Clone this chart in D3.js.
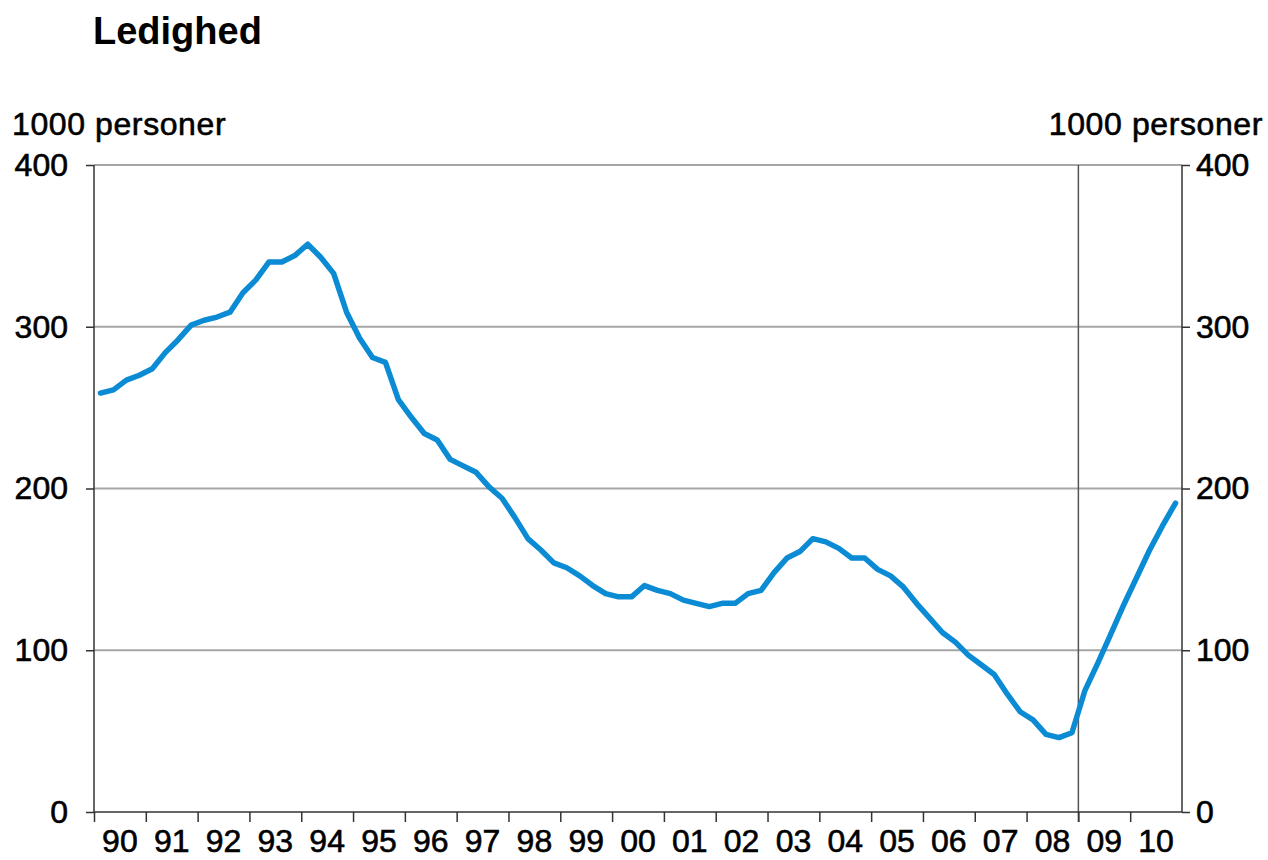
<!DOCTYPE html>
<html>
<head>
<meta charset="utf-8">
<script src="https://cdn.jsdelivr.net/npm/d3@7"></script>
<style>
  html, body { margin: 0; padding: 0; background: #ffffff; }
  svg { display: block; font-family: "Liberation Sans", Arial, sans-serif; }
  .lbl { fill: #000; stroke: #000; stroke-width: 0.6px; }
</style>
</head>
<body>
<svg id="chart" width="1268" height="860"></svg>
<script>
// ---- data ----
const title = "Ledighed";
const unitLabel = "1000 personer";
const yearLabels = ["90","91","92","93","94","95","96","97","98","99","00","01","02","03","04","05","06","07","08","09","10"];
const startYear = 1990;
const yTicks = [0, 100, 200, 300, 400];
// quarterly values, 1000 persons, 1990Q1 .. 2010Q4
const unemployment = [
  259, 261, 267, 270,
  274, 284, 292, 301,
  304, 306, 309, 321,
  329, 340, 340, 344,
  351, 343, 333, 309,
  293, 281, 278, 255,
  244, 234, 230, 218,
  214, 210, 201, 194,
  182, 169, 162, 154,
  151, 146, 140, 135,
  133, 133, 140, 137,
  135, 131, 129, 127,
  129, 129, 135, 137,
  148, 157, 161, 169,
  167, 163, 157, 157,
  150, 146, 139, 129,
  120, 111, 105, 97,
  91, 85, 73, 62,
  57, 48, 46, 49,
  75, 92, 110, 128,
  145, 162, 177, 191
];
const forecastStart = 2009;

(function () {
// ---- layout ----
const svg = d3.select("#chart");
const mLeft = 94, mRight = 1182, mTop = 165, mBottom = 812;

const x = d3.scaleLinear().domain([startYear, startYear + yearLabels.length]).range([mLeft, mRight]);
const y = d3.scaleLinear().domain([0, 400]).range([mBottom, mTop]);

const points = unemployment.map((v, i) => ({ t: startYear + (i + 0.5) / 4, v }));

// gridlines
svg.append("g").selectAll("line").data(yTicks.filter(d => d > 0)).join("line")
  .attr("x1", mLeft).attr("x2", mRight)
  .attr("y1", d => y(d)).attr("y2", d => y(d))
  .attr("stroke", "#a6a6a6").attr("stroke-width", 2);

// forecast divider
svg.append("line")
  .attr("x1", x(forecastStart)).attr("x2", x(forecastStart))
  .attr("y1", y(400)).attr("y2", y(0) + 10)
  .attr("stroke", "#555").attr("stroke-width", 1.5);

// left axis
const leftAxis = d3.axisLeft(y).tickValues(yTicks).tickSize(8).tickPadding(18).tickFormat(d3.format("d"));
const gl = svg.append("g").attr("transform", `translate(${mLeft},0)`).call(leftAxis);
// right axis
const rightAxis = d3.axisRight(y).tickValues(yTicks).tickSize(8).tickPadding(6).tickFormat(d3.format("d"));
const gr = svg.append("g").attr("transform", `translate(${mRight},0)`).call(rightAxis);

// bottom axis: ticks at year boundaries, labels in between
const yearBounds = d3.range(startYear, startYear + yearLabels.length);
const gb = svg.append("g").attr("transform", `translate(0,${mBottom})`)
  .call(d3.axisBottom(x).tickValues(yearBounds).tickSize(10).tickFormat(""));
gb.append("g").selectAll("text").data(yearLabels).join("text")
  .attr("class", "lbl")
  .attr("x", (d, i) => x(startYear + i + 0.5))
  .attr("y", 40)
  .attr("text-anchor", "middle")
  .style("font-size", "32px")
  .text(d => d);

[gl, gr, gb].forEach(g => {
  g.select(".domain").attr("stroke", "#333").attr("stroke-width", 1.5);
  g.selectAll(".tick line").attr("stroke", "#333").attr("stroke-width", 1.5);
  g.selectAll(".tick text").attr("class", "lbl").style("font-size", "32px").attr("font-family", "Liberation Sans, Arial, sans-serif");
});
gl.select(".domain").attr("d", `M0,${mTop}V${mBottom}`);
gr.select(".domain").attr("d", `M0,${mTop}V${mBottom}`);
gb.select(".domain").attr("d", `M${mLeft},0H${mRight}`);

// line
svg.append("path").datum(points)
  .attr("fill", "none")
  .attr("stroke", "#0a8bd3")
  .attr("stroke-width", 5.5)
  .attr("stroke-linejoin", "round")
  .attr("stroke-linecap", "round")
  .attr("d", d3.line().x(d => x(d.t)).y(d => y(d.v)));

// titles
svg.append("text").attr("x", 93).attr("y", 44)
  .style("font-size", "38px").style("font-weight", "bold").attr("fill", "#000")
  .text(title);
svg.append("text").attr("class", "lbl").attr("x", 12).attr("y", 135)
  .style("font-size", "32px").style("letter-spacing", "0.6px").text(unitLabel);
svg.append("text").attr("class", "lbl").attr("x", 1263).attr("y", 135).attr("text-anchor", "end")
  .style("font-size", "32px").style("letter-spacing", "0.6px").text(unitLabel);
})();
</script>
</body>
</html>
